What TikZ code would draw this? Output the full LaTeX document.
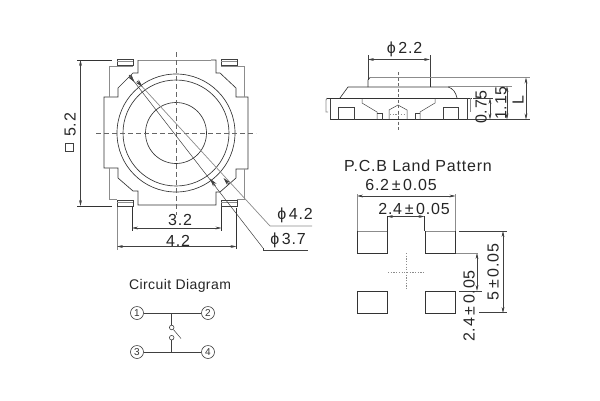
\documentclass[tikz,border=0pt]{standalone}
\usepackage{fontspec}
\setmainfont{Liberation Sans}
\newfontfamily\dimfont[LetterSpace=5]{Liberation Sans}
\usetikzlibrary{arrows.meta}
\newcommand{\pmgap}{\hspace{2.6pt}±\hspace{2.6pt}}
\tikzset{
  ln/.style={line width=0.65pt,draw=black!80},
  gl/.style={line width=0.9pt,draw=black!45},
  thin ln/.style={line width=0.5pt,draw=black!75},
  ctr/.style={line width=0.6pt,draw=black!60,dash pattern=on 5pt off 3pt},
  dots/.style={line width=0.7pt,draw=black!45,dash pattern=on 1.2pt off 1.5pt},
  dim/.style={thin ln,{Stealth[length=6pt,width=2.8pt]}-{Stealth[length=6pt,width=2.8pt]}},
  tip/.style={thin ln,-{Stealth[length=8pt,width=4.2pt]}},
  txt/.style={font=\fontsize{16}{17}\selectfont\dimfont,text=black!85,inner sep=0pt},
  pin/.style={circle,draw=black!75,line width=0.6pt,minimum size=13pt,inner sep=0pt,font=\fontsize{10}{10}\selectfont,text=black!80},
  contact/.style={circle,draw=black!75,line width=0.6pt,minimum size=4.6pt,inner sep=0pt},
}
\begin{document}
\begin{tikzpicture}[x=1pt,y=-1pt]
\useasboundingbox[fill=white] (0,0) rectangle (600,400);
% ---------- plan view
\draw[gl] (138,60) -- (211,60);
\draw[ln] (138,60) -- (138,73) -- (133,73) -- (118,88) -- (118,97) -- (104,97) -- (104,168) -- (118,168) -- (118,178) -- (133,191) -- (138,191) -- (138,205) -- (216,205) -- (216,192) -- (220,192) -- (236,178) -- (236,169) -- (248,169) -- (248,97) -- (236,97) -- (236,88) -- (220,73) -- (216,73) -- (216,60) -- (211,60);
\draw[gl] (133,66) -- (109,66) -- (109,97);
\draw[gl] (109,168) -- (109,199) -- (117,199);
\draw[gl] (221,66) -- (244,66) -- (244,97);
\draw[gl] (244,169) -- (244,199) -- (237,199);
\foreach \x/\y in {117/59,221/59,117/200,221/200}{
  \draw[thin ln] (\x,\y) rectangle ++(16,6.5);
  \draw[gl,line width=0.4pt] (\x,\y+2.2) -- ++(16,0);
}
\draw[ln] (176,133) circle[radius=59];
\draw[ln] (176,133) circle[radius=53];
\draw[ln] (176,133) circle[radius=30.5];
\draw[ctr] (176,52) -- (176,215);
\draw[ctr] (96,133) -- (256,133);
% leaders
\coordinate (ldA0) at (129,75);
\coordinate (ldA1) at (263,248);
\coordinate (ldA2) at (308,250);
\coordinate (ldB0) at (137,81);
\coordinate (ldB1) at (270,226);
\coordinate (ldB2) at (312,226);
\draw[thin ln] (ldA0) -- (ldA1);
\draw[thin ln] (ldA1) -- (263,250) -- (ldA2);
\draw[gl,line width=0.7pt] (ldB0) -- (ldB1) -- (ldB2);
\draw[tip] (129,75) -- (134.5,82.1);
\draw[tip] (137,81) -- (142.5,86.9);
\draw[tip] (215.5,185.8) -- (210,178.7);
\draw[tip] (229,184) -- (223.5,178.1);
\node[txt,anchor=center] (phiB) at (295,215) {ϕ\,4.2};
\node[txt,anchor=center] (phiA) at (288,240) {ϕ\,3.7};
% 5.2
\draw[ln] (77,60) -- (112,60);
\draw[ln] (77,206) -- (112,206);
\draw[dim] (80.5,60) -- (80.5,206);
\node[txt,rotate=90] (d52) at (70,125) {5.2};
\draw[thin ln] (65,143.5) rectangle (73.5,151);
% 3.2 / 4.2
\draw[ln] (132,207) -- (132,231);
\draw[ln] (221.5,207) -- (221.5,231);
\draw[dim] (132,228) -- (221.5,228);
\node[txt] (d32) at (180,220) {3.2};
\draw[gl] (117,207) -- (117,250);
\draw[ln] (236.5,208) -- (236.5,249);
\draw[dim] (117,246.5) -- (236.5,246.5);
\node[txt] (d42) at (178,241) {4.2};
% ---------- side view
\node[txt] (d22) at (404.5,49.5) {ϕ\,2.2};
\draw[dim] (368,59.5) -- (430,59.5);
\draw[thin ln] (368,55) -- (368,80);
\draw[thin ln] (430,55) -- (430,80);
\draw[gl] (370,77.5) -- (530,77.5);
\draw[ln] (368,87) -- (368,80) -- (370,77.5);
\draw[ln] (430,77.5) -- (430,87);
\draw[ln] (340,98) -- (348,87) -- (448,87) .. controls (453,88) and (456,93) .. (457,98);
\draw[gl,line width=0.7pt] (448,86) -- (512,86);
\draw[gl] (328,112) -- (326,112) -- (326,100) -- (327,98);
\draw[ln] (327,98) -- (472,98);
\draw[thin ln] (330.5,98.5) -- (330.5,119.5);
\draw[ln] (331,119.5) -- (467,119.5);
\draw[thin ln] (467,119.5) -- (467,98);
\draw[gl] (470,98) -- (470,112);
\draw[thin ln] (467,119.5) -- (530,119.5);
\draw[thin ln] (473,98) -- (493,98);
\draw[thin ln] (362,98) -- (362,103) -- (377,112) -- (377,119.5);
\draw[thin ln] (435,98) -- (435,103) -- (420,112) -- (420,119.5);
\draw[thin ln] (377,113) -- (382,113) -- (382,119.5);
\draw[thin ln] (415,119.5) -- (415,113) -- (420,113);
\draw[thin ln] (389,119.5) -- (389,110) -- (398,105) -- (407,110) -- (407,119.5);
\draw[thin ln] (338,119.5) -- (338,107) -- (354,107) -- (354,119.5);
\draw[thin ln] (443,119.5) -- (443,107) -- (458,107) -- (458,119.5);
\draw[ctr,dash pattern=on 3pt off 2.5pt] (398.5,72) -- (398.5,130);
\draw[dots] (390,114) -- (406,114);
\draw[dim] (526,77.5) -- (526,119.5);
\draw[dim] (507,86) -- (507,119.5);
\draw[dim] (490,98) -- (490,119.5);
\node[txt,rotate=90] (dL) at (518,100) {L};
\node[txt,rotate=90] (d115) at (501,103) {1.15};
\node[txt,rotate=90] (d075) at (481,107) {0.75};
% ---------- land pattern
\node[txt] (pcb) at (418,166) {P.C.B Land Pattern};
\node[txt] (d62) at (401,185) {6.2\pmgap 0.05};
\draw[dim] (357,196) -- (455.5,196);
\draw[gl] (357,194) -- (357,231);
\draw[gl] (455.5,194) -- (455.5,231);
\node[txt] (d24) at (414,209) {2.4\pmgap 0.05};
\draw[dim] (387,216.5) -- (424.5,216.5);
\draw[ln] (387,216) -- (387,231);
\draw[ln] (424.5,216) -- (424.5,231);
\foreach \x/\y in {357/231,425/231}{
  \draw[gl,line width=0.7pt] (\x,\y) -- ++(30.5,0);
  \draw[ln] (\x,\y) -- ++(0,22) -- ++(30.5,0) -- ++(0,-22);
}
\foreach \x/\y in {357/291,425/291}{
  \draw[ln] (\x,\y) rectangle ++(30.5,22);
}
\draw[dots] (388,272) -- (425,272);
\draw[dots] (406,253) -- (406,290);
\draw[dim] (503,231) -- (503,313);
\draw[thin ln] (459,231) -- (507,231);
\draw[thin ln] (479,312.5) -- (507,312.5);
\node[txt,rotate=90] (d5) at (493,272) {5\pmgap 0.05};
\draw[dim] (477,253) -- (477,291);
\draw[gl] (456,253) -- (478,253);
\draw[thin ln] (459,291) -- (482,291);
\node[txt,rotate=90] (d24v) at (469,306) {2.4\pmgap 0.05};
% ---------- circuit
\node[font=\fontsize{14}{15}\selectfont,text=black!85,inner sep=0pt] (ct) at (180,286) {\addfontfeature{LetterSpace=3}Circuit Diagram};
\node[pin] (p1) at (137,313) {1};
\node[pin] (p2) at (208,313) {2};
\node[pin] (p3) at (137,352) {3};
\node[pin] (p4) at (208,352) {4};
\draw[thin ln] (p1) -- (p2);
\draw[thin ln] (p3) -- (p4);
\coordinate (j1) at (171.7,313);
\coordinate (j2) at (171.7,352);
\node[contact] (c1) at (171.7,327.5) {};
\node[contact] (c2) at (171.7,337.7) {};
\draw[thin ln] (j1) -- (c1);
\draw[thin ln] (c2) -- (j2);
\coordinate (sw) at (181,338.5);
\draw[thin ln] (c1) -- (sw);
\end{tikzpicture}
\end{document}
